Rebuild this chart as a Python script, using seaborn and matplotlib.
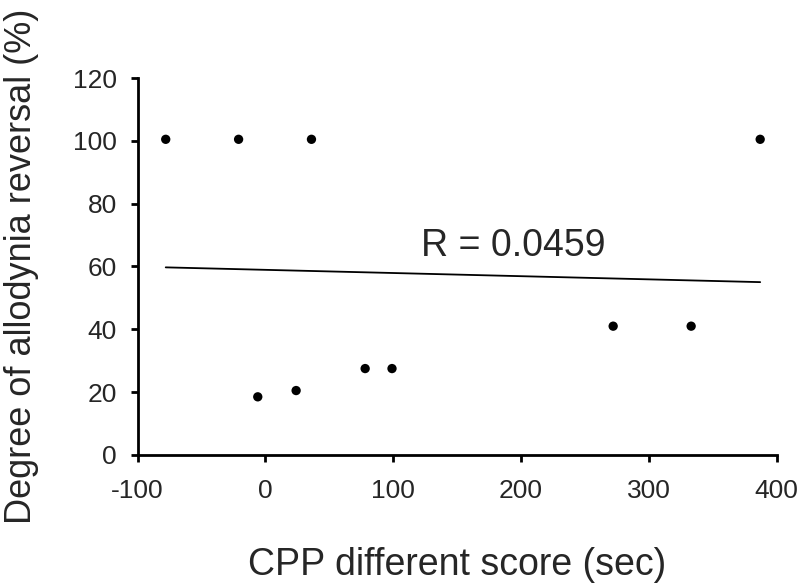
import numpy as np
import pandas as pd
import seaborn as sns
import matplotlib.pyplot as plt

# values
cpp_score = [-78, -21, 36, -6, 24, 78, 99, 272, 333, 387]
allodynia_reversal = [100.5, 100.5, 100.5, 18.5, 20.5, 27.5, 27.5, 41, 41, 100.5]
x_ticks = [-100, 0, 100, 200, 300, 400]
y_ticks = [0, 20, 40, 60, 80, 100, 120]
r_label = "R = 0.0459"

df = pd.DataFrame({"cpp": cpp_score, "rev": allodynia_reversal})

sns.set_style("ticks")
plt.rcParams['font.family'] = ['Liberation Sans', 'DejaVu Sans']
plt.rcParams['axes.unicode_minus'] = False

fig = plt.figure(figsize=(8, 5.87), dpi=100)
ax = fig.add_axes([0.172, 0.225, 0.799, 0.642])

# fitted line (no confidence band), then the points
sns.regplot(data=df, x="cpp", y="rev", ax=ax, scatter=False, ci=None,
            color="black", line_kws={"linewidth": 1.3})
sns.scatterplot(data=df, x="cpp", y="rev", ax=ax, color="black",
                s=45, edgecolor="none", zorder=3)

ax.set_xlim(-100, 400)
ax.set_ylim(0, 120)
ax.set_xticks(x_ticks)
ax.set_yticks(y_ticks)
ax.tick_params(labelsize=19, width=2, length=5, color="black")
ax.tick_params(axis="y", pad=10)
ax.tick_params(axis="x", pad=12)

for side in ["left", "bottom"]:
    ax.spines[side].set_linewidth(2)
    ax.spines[side].set_color("black")
sns.despine(ax=ax)

ax.set_xlabel("CPP different score (sec)", fontsize=27, labelpad=32)
ax.set_ylabel("Degree of allodynia reversal (%)", fontsize=26, labelpad=24)

ax.text(122, 63.5, r_label, fontsize=27, ha="left", va="baseline")

fig.savefig("out.png", dpi=100)
